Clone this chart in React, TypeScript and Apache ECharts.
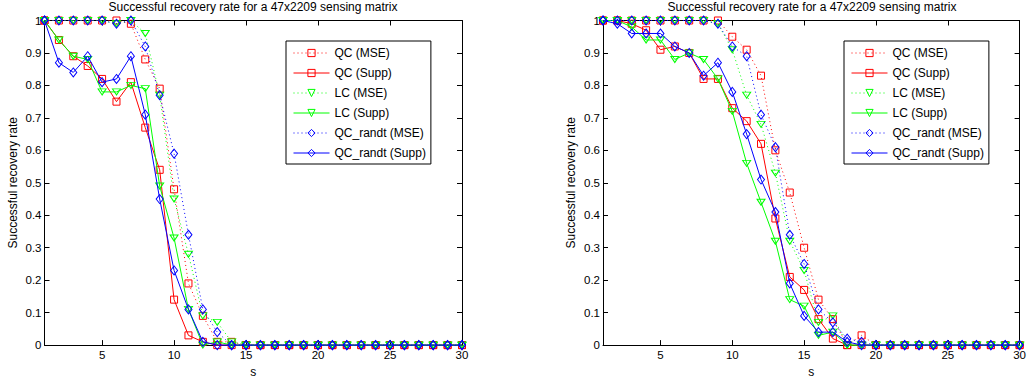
import React, { useEffect, useRef } from "react";
import * as echarts from "echarts";

const S = [1, 2, 3, 4, 5, 6, 7, 8, 9, 10, 11, 12, 13, 14, 15, 16, 17, 18, 19, 20, 21, 22, 23, 24, 25, 26, 27, 28, 29, 30];
const X_TICKS = [5, 10, 15, 20, 25, 30];
const TITLE = "Successful recovery rate for a 47x2209 sensing matrix";
const NAMES = ["QC (MSE)", "QC (Supp)", "LC (MSE)", "LC (Supp)", "QC_randt (MSE)", "QC_randt (Supp)"];

// Left chart
const leftQcMse = [1, 1, 1, 1, 1, 1, 0.99, 0.88, 0.79, 0.48, 0.19, 0.09, 0.01, 0.01, 0, 0, 0, 0, 0, 0, 0, 0, 0, 0, 0, 0, 0, 0, 0, 0];
const leftQcSupp = [1, 0.94, 0.89, 0.86, 0.82, 0.75, 0.81, 0.67, 0.54, 0.14, 0.03, 0.01, 0, 0, 0, 0, 0, 0, 0, 0, 0, 0, 0, 0, 0, 0, 0, 0, 0, 0];
const leftLcMse = [1, 1, 1, 1, 1, 0.99, 1, 0.96, 0.77, 0.45, 0.28, 0.09, 0.07, 0.01, 0, 0, 0, 0, 0, 0, 0, 0, 0, 0, 0, 0, 0, 0, 0, 0];
const leftLcSupp = [1, 0.94, 0.89, 0.88, 0.78, 0.78, 0.8, 0.79, 0.49, 0.33, 0.11, 0, 0.01, 0, 0, 0, 0, 0, 0, 0, 0, 0, 0, 0, 0, 0, 0, 0, 0, 0];
const leftQcrMse = [1, 1, 1, 1, 1, 0.99, 1, 0.92, 0.77, 0.59, 0.34, 0.11, 0.04, 0, 0, 0, 0, 0, 0, 0, 0, 0, 0, 0, 0, 0, 0, 0, 0, 0];
const leftQcrSupp = [1, 0.87, 0.84, 0.89, 0.81, 0.82, 0.89, 0.71, 0.45, 0.23, 0.11, 0.01, 0, 0, 0, 0, 0, 0, 0, 0, 0, 0, 0, 0, 0, 0, 0, 0, 0, 0];

// Right chart
const rightQcMse = [1, 1, 1, 1, 1, 1, 1, 1, 1, 0.95, 0.91, 0.83, 0.6, 0.47, 0.3, 0.14, 0.08, 0, 0.03, 0, 0, 0, 0, 0, 0, 0, 0, 0, 0, 0];
const rightQcSupp = [1, 1, 0.99, 0.97, 0.91, 0.92, 0.9, 0.82, 0.82, 0.73, 0.69, 0.62, 0.39, 0.21, 0.17, 0.08, 0.02, 0, 0, 0, 0, 0, 0, 0, 0, 0, 0, 0, 0, 0];
const rightLcMse = [1, 1, 1, 1, 1, 1, 1, 1, 0.99, 0.91, 0.77, 0.68, 0.53, 0.32, 0.23, 0.07, 0.09, 0, 0, 0, 0, 0, 0, 0, 0, 0, 0, 0, 0, 0];
const rightLcSupp = [1, 1, 0.98, 0.94, 0.94, 0.88, 0.9, 0.88, 0.82, 0.72, 0.56, 0.44, 0.32, 0.14, 0.12, 0.03, 0.04, 0, 0, 0, 0, 0, 0, 0, 0, 0, 0, 0, 0, 0];
const rightQcrMse = [1, 1, 1, 1, 1, 1, 1, 1, 0.99, 0.92, 0.89, 0.71, 0.61, 0.34, 0.25, 0.11, 0.07, 0.02, 0.01, 0, 0, 0, 0, 0, 0, 0, 0, 0, 0, 0];
const rightQcrSupp = [1, 0.99, 0.96, 0.96, 0.96, 0.92, 0.9, 0.83, 0.87, 0.78, 0.65, 0.51, 0.41, 0.19, 0.09, 0.04, 0.04, 0.01, 0, 0, 0, 0, 0, 0, 0, 0, 0, 0, 0, 0];

const FONT = "'Liberation Sans', Arial, Helvetica, sans-serif";
const RED = "#ff0000";
const GREEN = "#00ff00";
const BLUE = "#0000ff";
const DOT = [1, 3];

type Style = { color: string; symbol: string; size: number | number[]; rotate: number; dotted: boolean };
const STYLES: Style[] = [
  { color: RED, symbol: "rect", size: 7, rotate: 0, dotted: true },
  { color: RED, symbol: "rect", size: 7, rotate: 0, dotted: false },
  { color: GREEN, symbol: "triangle", size: [8, 6], rotate: 180, dotted: true },
  { color: GREEN, symbol: "triangle", size: [8, 6], rotate: 180, dotted: false },
  { color: BLUE, symbol: "diamond", size: [7, 9], rotate: 0, dotted: true },
  { color: BLUE, symbol: "diamond", size: [7, 9], rotate: 0, dotted: false },
];

function makeSeries(values: number[][], axisIndex: number) {
  return values.map((vals, i) => {
    const st = STYLES[i];
    return {
      type: "line",
      name: NAMES[i],
      xAxisIndex: axisIndex * 2,
      yAxisIndex: axisIndex * 2,
      data: S.map((s, k) => [s, vals[k]]),
      symbol: st.symbol,
      symbolSize: st.size,
      symbolRotate: st.rotate,
      showAllSymbol: true,
      clip: false,
      color: st.color,
      itemStyle: { color: "rgba(255,255,255,0)", borderColor: st.color, borderWidth: 1 },
      lineStyle: { color: st.color, width: 1, type: st.dotted ? DOT : "solid" },
      emphasis: { disabled: true },
      z: 2 + i,
    };
  });
}

function xAxes(gridIndex: number) {
  const base = {
    type: "value",
    gridIndex,
    min: 1,
    max: 30,
    splitLine: { show: false },
    axisLine: { show: true, onZero: false, lineStyle: { color: "#000", width: 1 } },
  };
  return [
    {
      ...base,
      position: "bottom",
      name: "s",
      nameLocation: "middle",
      nameGap: 18,
      nameTextStyle: { fontFamily: FONT, fontSize: 12, color: "#000" },
      axisTick: { show: true, inside: true, length: 5, customValues: X_TICKS, lineStyle: { color: "#000" } },
      axisLabel: { show: true, customValues: X_TICKS, margin: 4, fontFamily: FONT, fontSize: 11.5, color: "#000" },
    },
    {
      ...base,
      position: "top",
      axisTick: { show: true, inside: true, length: 5, customValues: X_TICKS, lineStyle: { color: "#000" } },
      axisLabel: { show: false },
    },
  ];
}

function yAxes(gridIndex: number) {
  const base = {
    type: "value",
    gridIndex,
    min: 0,
    max: 1,
    interval: 0.1,
    splitLine: { show: false },
    axisLine: { show: true, onZero: false, lineStyle: { color: "#000", width: 1 } },
    axisTick: { show: true, inside: true, length: 5, lineStyle: { color: "#000" } },
  };
  return [
    {
      ...base,
      position: "left",
      name: "Successful recovery rate",
      nameLocation: "middle",
      nameGap: 26,
      nameTextStyle: { fontFamily: FONT, fontSize: 12, color: "#000" },
      axisLabel: { show: true, margin: 3, fontFamily: FONT, fontSize: 11.5, color: "#000" },
    },
    {
      ...base,
      position: "right",
      axisLabel: { show: false },
    },
  ];
}

function legend(left: number) {
  return {
    data: NAMES,
    orient: "vertical",
    left,
    top: 41,
    padding: [5, 5, 4, 7],
    itemGap: 6,
    itemWidth: 36,
    itemHeight: 9,
    backgroundColor: "#fff",
    borderColor: "#000",
    borderWidth: 1,
    borderRadius: 0,
    selectedMode: false,
    lineStyle: { width: 1 },
    itemStyle: { borderWidth: 1 },
    textStyle: { fontFamily: FONT, fontSize: 12, lineHeight: 14, color: "#000" },
  };
}

export default function App() {
  const ref = useRef<HTMLDivElement>(null);
  useEffect(() => {
    if (!ref.current) return;
    const chart = echarts.init(ref.current, undefined, { renderer: "svg" });
    const titleStyle = { fontFamily: FONT, fontSize: 12, fontWeight: "normal", color: "#000" };
    const option = {
      animation: false,
      backgroundColor: "#fff",
      textStyle: { fontFamily: FONT },
      title: [
        { text: TITLE, left: 253, top: 1, padding: 0, textAlign: "center", textStyle: titleStyle },
        { text: TITLE, left: 812, top: 1, padding: 0, textAlign: "center", textStyle: titleStyle },
      ],
      legend: [legend(286), legend(844)],
      grid: [
        { left: 44.5, top: 20.5, width: 417.5, height: 327.8 },
        { left: 603, top: 20.5, width: 417.7, height: 327.8 },
      ],
      xAxis: [...xAxes(0), ...xAxes(1)],
      yAxis: [...yAxes(0), ...yAxes(1)],
      series: [
        ...makeSeries([leftQcMse, leftQcSupp, leftLcMse, leftLcSupp, leftQcrMse, leftQcrSupp], 0),
        ...makeSeries([rightQcMse, rightQcSupp, rightLcMse, rightLcSupp, rightQcrMse, rightQcrSupp], 1),
      ],
    };
    chart.setOption(option as any);
    return () => chart.dispose();
  }, []);
  return <div ref={ref} style={{ position: "fixed", left: 0, top: 0, width: 1029, height: 383, background: "#fff" }} />;
}
